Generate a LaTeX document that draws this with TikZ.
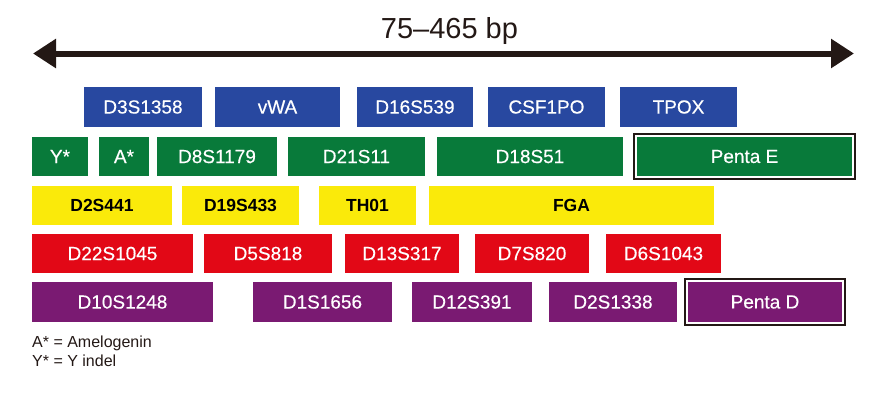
\documentclass[tikz,border=0pt]{standalone}
\usepackage{fontspec}
\setmainfont{Liberation Sans}
\newfontface\lblface[FakeBold=0.4]{Liberation Sans}
\usetikzlibrary{arrows.meta}
\definecolor{strblue}{RGB}{40,72,160}
\definecolor{strgreen}{RGB}{8,122,58}
\definecolor{stryellow}{RGB}{250,234,10}
\definecolor{strred}{RGB}{226,8,22}
\definecolor{strpurple}{RGB}{122,26,114}
\definecolor{inkdark}{RGB}{35,24,21}

\tikzset{
	locus/.style={inner sep=0pt, minimum height=40pt, text=white, font=\fontsize{19}{19}\lblface},
	blu/.style={locus, fill=strblue},
	grn/.style={locus, fill=strgreen, minimum height=39pt},
	ylw/.style={locus, fill=stryellow, minimum height=39pt, text=black, font=\fontsize{17.5}{17.5}\selectfont\bfseries},
	rd/.style={locus, fill=strred, minimum height=39pt},
	ppl/.style={locus, fill=strpurple},
	frame/.style={draw=inkdark, line width=2pt},
	legend/.style={anchor=base west, inner sep=0pt, font=\fontsize{16}{16}\selectfont, text=inkdark}
}

\begin{document}
\begin{tikzpicture}[x=1pt, y=-1pt, >={Triangle[length=23pt,width=28pt]}]
		\useasboundingbox (0,0) rectangle (870,400);
		% size range
		\node[anchor=base, inner sep=0pt, font=\fontsize{29}{29}\selectfont, text=inkdark] (range) at (449.5,38) {75\textendash465 bp};
		\coordinate (lo) at (33,53.5);
		\coordinate (hi) at (854,53.5);
		\draw[<->, line width=6pt, inkdark] (lo) -- (hi);
		% blue dye
		\node[blu, minimum width=118pt] (d3s1358) at (143,107) {D3S1358};
		\node[blu, minimum width=125pt] (vwa) at (277.5,107) {vWA};
		\node[blu, minimum width=116pt] (d16s539) at (415,107) {D16S539};
		\node[blu, minimum width=117pt] (csf1po) at (546.5,107) {CSF1PO};
		\node[blu, minimum width=117pt] (tpox) at (678.5,107) {TPOX};
		% green dye
		\node[grn, minimum width=56pt] (yindel) at (60,156.5) {Y*};
		\node[grn, minimum width=50pt] (amelo) at (124,156.5) {A*};
		\node[grn, minimum width=120pt] (d8s1179) at (217,156.5) {D8S1179};
		\node[grn, minimum width=137pt] (d21s11) at (356.5,156.5) {D21S11};
		\node[grn, minimum width=186pt] (d18s51) at (530,156.5) {D18S51};
		\node[grn, minimum width=215pt] (pentae) at (744.5,156.5) {Penta E};
		\draw[frame] ([shift={(-3,-3)}]pentae.north west) rectangle ([shift={(3,3)}]pentae.south east);
		% yellow dye
		\node[ylw, minimum width=140pt] (d2s441) at (102,205.5) {D2S441};
		\node[ylw, minimum width=117pt] (d19s433) at (240.5,205.5) {D19S433};
		\node[ylw, minimum width=97pt] (th01) at (367.5,205.5) {TH01};
		\node[ylw, minimum width=285pt] (fga) at (571.5,205.5) {FGA};
		% red dye
		\node[rd, minimum width=161pt] (d22s1045) at (112.5,253.5) {D22S1045};
		\node[rd, minimum width=128pt] (d5s818) at (268,253.5) {D5S818};
		\node[rd, minimum width=114pt] (d13s317) at (402,253.5) {D13S317};
		\node[rd, minimum width=114pt] (d7s820) at (532,253.5) {D7S820};
		\node[rd, minimum width=115pt] (d6s1043) at (663.5,253.5) {D6S1043};
		% purple dye
		\node[ppl, minimum width=181pt] (d10s1248) at (122.5,302) {D10S1248};
		\node[ppl, minimum width=139pt] (d1s1656) at (322.5,302) {D1S1656};
		\node[ppl, minimum width=120pt] (d12s391) at (472,302) {D12S391};
		\node[ppl, minimum width=128pt] (d2s1338) at (613,302) {D2S1338};
		\node[ppl, minimum width=154pt] (pentad) at (765,302) {Penta D};
		\draw[frame] ([shift={(-3,-3)}]pentad.north west) rectangle ([shift={(3,3)}]pentad.south east);
		% key
		\node[legend] (keya) at (32,347) {A* = Amelogenin};
		\node[legend] (keyy) at (32,366) {Y* = Y indel};
	\end{tikzpicture}
\end{document}
